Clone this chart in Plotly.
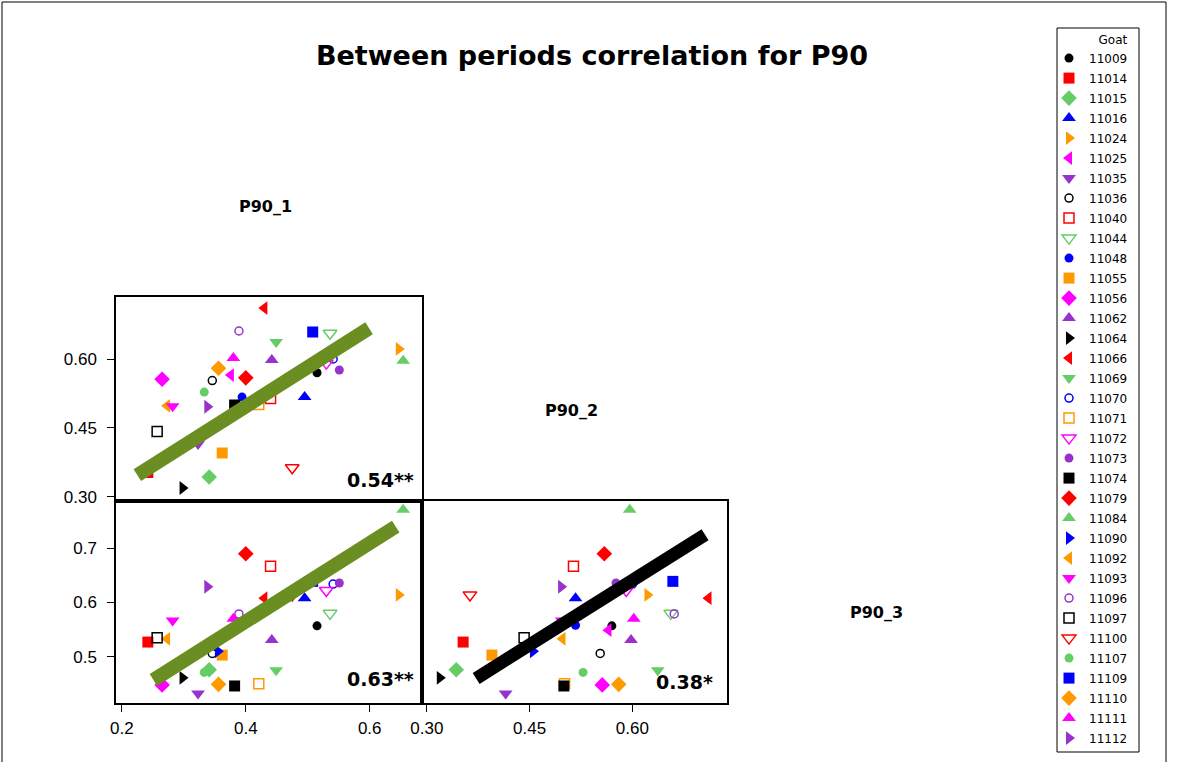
import plotly.graph_objects as go

W, H = 1178, 762

goats = ["11009", "11014", "11015", "11016", "11024", "11025", "11035", "11036",
         "11040", "11044", "11048", "11055", "11056", "11062", "11064", "11066",
         "11069", "11070", "11071", "11072", "11073", "11074", "11079", "11084",
         "11090", "11092", "11093", "11096", "11097", "11100", "11107", "11109",
         "11110", "11111", "11112"]
p90_1 = [0.515, 0.242, 0.341, 0.495, 0.647, 0.376, 0.323, 0.346,
         0.440, 0.536, 0.394, 0.362, 0.265, 0.442, 0.298, 0.430,
         0.449, 0.541, 0.421, 0.530, 0.551, 0.382, 0.400, 0.654,
         0.355, 0.273, 0.282, 0.389, 0.257, 0.475, 0.333, 0.508,
         0.356, 0.380, 0.338]
p90_2 = [0.570, 0.353, 0.343, 0.517, 0.622, 0.565, 0.415, 0.553,
         0.514, 0.656, 0.517, 0.395, 0.556, 0.598, 0.319, 0.711,
         0.637, 0.600, 0.501, 0.591, 0.576, 0.500, 0.559, 0.596,
         0.455, 0.498, 0.497, 0.661, 0.442, 0.363, 0.528, 0.659,
         0.580, 0.602, 0.496]
p90_3 = [0.557, 0.527, 0.476, 0.608, 0.614, 0.549, 0.432, 0.506,
         0.667, 0.580, 0.558, 0.503, 0.448, 0.531, 0.461, 0.608,
         0.475, 0.634, 0.450, 0.622, 0.636, 0.446, 0.690, 0.771,
         0.510, 0.533, 0.567, 0.579, 0.535, 0.614, 0.471, 0.639,
         0.449, 0.570, 0.629]

corr_labels = ["0.54**", "0.63**", "0.38*"]
# fitted line end points
fit_12_x = [0.225, 0.599]
fit_12_y = [0.347, 0.667]
fit_13_x = [0.251, 0.642]
fit_13_y = [0.457, 0.740]
fit_23_x = [0.372, 0.706]
fit_23_y = [0.460, 0.725]

x_ticks_1 = [0.2, 0.4, 0.6]
x_ticks_1_txt = ["0.2", "0.4", "0.6"]
ticks_2 = [0.30, 0.45, 0.60]
ticks_2_txt = ["0.30", "0.45", "0.60"]
ticks_3 = [0.5, 0.6, 0.7]
ticks_3_txt = ["0.5", "0.6", "0.7"]

# ---- styles ----
palette = ["#000000", "#FF0000", "#66CC66", "#0000FF", "#FF9900", "#FF00FF", "#9932CC"]
symbols = ["circle", "square", "diamond", "triangle-up", "triangle-right",
           "triangle-left", "triangle-down", "circle-open", "square-open",
           "triangle-down-open"]
sym_size = {"circle": 9, "square": 11, "diamond": 12, "triangle-up": 12,
            "triangle-right": 12, "triangle-left": 12, "triangle-down": 12,
            "circle-open": 8, "square-open": 10, "triangle-down-open": 12}

def px_x(p):
    return p / W

def px_y(p):
    return 1 - p / H

col1 = [px_x(116), px_x(422)]
col2 = [px_x(422), px_x(727)]
row2 = [px_y(500.7), px_y(297)]
row3 = [px_y(703), px_y(500.7)]

r1 = [0.1906, 0.6844]
r2 = [0.2913, 0.7351]
r2x = [0.2930, 0.7380]
r3 = [0.4146, 0.7878]

fig = go.Figure()

panels = [("x", "y", p90_1, p90_2), ("x2", "y2", p90_1, p90_3), ("x3", "y3", p90_2, p90_3)]
for i, g in enumerate(goats):
    sym = symbols[i % len(symbols)]
    col = palette[i % len(palette)]
    for k, (xa, ya, xs, ys) in enumerate(panels):
        fig.add_trace(go.Scatter(
            x=[xs[i]], y=[ys[i]], xaxis=xa, yaxis=ya, mode="markers",
            name=g, legendgroup=g, showlegend=(k == 0),
            marker=dict(symbol=sym, color=col, size=sym_size[sym],
                        line=dict(width=1.5 if "open" in sym else 0, color=col)),
        ))

fig.add_trace(go.Scatter(x=fit_12_x, y=fit_12_y, xaxis="x", yaxis="y", mode="lines",
                         line=dict(color="#6B8E23", width=14), showlegend=False))
fig.add_trace(go.Scatter(x=fit_13_x, y=fit_13_y, xaxis="x2", yaxis="y2", mode="lines",
                         line=dict(color="#6B8E23", width=14), showlegend=False))
fig.add_trace(go.Scatter(x=fit_23_x, y=fit_23_y, xaxis="x3", yaxis="y3", mode="lines",
                         line=dict(color="#000000", width=13), showlegend=False))

tickfont = dict(family="Liberation Sans, Arial", size=17, color="black")
common = dict(showline=True, mirror=True, linecolor="black", linewidth=1.5,
              showgrid=False, zeroline=False, ticks="outside", ticklen=7,
              tickcolor="black", tickwidth=1, tickfont=tickfont, automargin=False)

fig.update_layout(
    width=W, height=H, autosize=False,
    margin=dict(l=0, r=0, t=0, b=0, autoexpand=False),
    paper_bgcolor="white", plot_bgcolor="white",
    xaxis=dict(domain=col1, range=r1, anchor="y", showticklabels=False,
               **{**common, "ticks": ""}),
    yaxis=dict(domain=row2, range=r2, anchor="x", tickvals=ticks_2,
               ticktext=ticks_2_txt, ticklabelstandoff=7, **common),
    xaxis2=dict(domain=col1, range=r1, anchor="y2", tickvals=x_ticks_1,
                ticktext=x_ticks_1_txt, ticklabelstandoff=2, **common),
    yaxis2=dict(domain=row3, range=r3, anchor="x2", tickvals=ticks_3,
                ticktext=ticks_3_txt, ticklabelstandoff=7, **common),
    xaxis3=dict(domain=col2, range=r2x, anchor="y3", tickvals=ticks_2,
                ticktext=ticks_2_txt, ticklabelstandoff=2, **common),
    yaxis3=dict(domain=row3, range=r3, anchor="x3", showticklabels=False,
                **{**common, "ticks": ""}),
    title=dict(text="<b>Between periods correlation for P90</b>",
               x=px_x(592), xanchor="center", y=px_y(56), yanchor="middle",
               font=dict(family="DejaVu Sans", size=27, color="black")),
    legend=dict(x=px_x(1049), y=px_y(28), xanchor="left", yanchor="top",
                borderwidth=0, bgcolor="rgba(0,0,0,0)",
                font=dict(family="DejaVu Sans", size=12, color="black"),
                title=dict(text="Goat&nbsp;", side="top right",
                           font=dict(family="DejaVu Sans", size=12, color="black")),
                tracegroupgap=1, itemwidth=30),
    showlegend=True,
)

labfont = dict(family="DejaVu Sans", size=16, color="black")
for name, (cx, cy) in zip(["P90_1", "P90_2", "P90_3"], [(265, 207), (571, 410), (876, 612)]):
    fig.add_annotation(text="<b>" + name + "</b>", x=px_x(cx), y=px_y(cy), xref="paper",
                       yref="paper", showarrow=False, xanchor="center", yanchor="middle",
                       font=labfont)

corrfont = dict(family="DejaVu Sans", size=19, color="black")
for txt, (rx, cy) in zip(corr_labels, [(416, 480), (416, 679), (715, 682)]):
    fig.add_annotation(text="<b>" + txt + "</b>", x=px_x(rx), y=px_y(cy), xref="paper",
                       yref="paper", showarrow=False, xanchor="right", yanchor="middle",
                       font=corrfont)

# outer frame and legend box
fig.add_shape(type="rect", xref="paper", yref="paper", x0=px_x(2), x1=px_x(1166),
              y0=-0.05, y1=px_y(2), line=dict(color="black", width=1), layer="below")
fig.add_shape(type="rect", xref="paper", yref="paper", x0=px_x(1057), x1=px_x(1139),
              y0=px_y(752), y1=px_y(28), line=dict(color="black", width=1), layer="below")

fig.write_html("out.html")
